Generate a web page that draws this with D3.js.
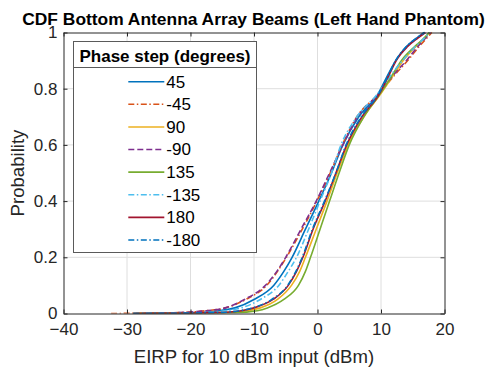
<!DOCTYPE html>
<html>
<head>
<meta charset="utf-8">
<script src="https://cdn.jsdelivr.net/npm/d3@7"></script>
<style>
  html, body { margin: 0; padding: 0; background: #fff; }
  svg { display: block; }
  text { font-family: "Liberation Sans", Arial, Helvetica, sans-serif; }
</style>
</head>
<body>
<svg id="chart" width="486" height="367"></svg>
<script>
// ---- data ----
const chartTitle = "CDF Bottom Antenna Array Beams (Left Hand Phantom)";
const xLabel = "EIRP for 10 dBm input (dBm)";
const yLabel = "Probability";
const legendTitle = "Phase step (degrees)";
const xTicks = [-40, -30, -20, -10, 0, 10, 20];
const yTicks = [0, 0.2, 0.4, 0.6, 0.8, 1];
const yTickLabels = ["0", "0.2", "0.4", "0.6", "0.8", "1"];
const seriesNames = ["45", "-45", "90", "-90", "135", "-135", "180", "-180"];
// probability levels at which EIRP values were read
const probLevels = [0, 0.003, 0.01, 0.02, 0.05, 0.1, 0.15, 0.2, 0.3, 0.4, 0.5, 0.6, 0.7, 0.78, 0.85, 0.9, 0.95, 0.98, 1];
const eirp45   = [-29, -19, -15.5, -13, -10, -6.9, -5.3, -4.0, -1.9, 0.2, 2.2, 4.0, 6.5, 9.5, 11.1, 12.3, 14.0, 15.6, 16.8];
const eirpM45  = [-32.5, -22, -17.5, -14.5, -11.3, -8.0, -6.3, -4.9, -2.4, -0.1, 2.0, 3.9, 6.2, 9.6, 12.2, 14.2, 16.0, 17.2, 18.0];
const eirp90   = [-29, -15, -11, -9, -6.3, -4.1, -2.8, -1.9, -0.2, 1.5, 3.1, 4.8, 7.3, 9.9, 12.0, 13.5, 15.5, 16.8, 17.6];
const eirpM90  = [-29, -22, -17.5, -14.5, -11.5, -8.2, -6.4, -5.0, -2.6, -0.2, 1.9, 4.0, 6.3, 9.6, 12.0, 14.0, 15.8, 17.0, 17.8];
const eirp135  = [-29, -13, -9.5, -7.9, -5.3, -3.0, -1.9, -1.1, 0.4, 1.9, 3.4, 5.0, 7.3, 9.8, 11.8, 13.2, 15.3, 16.8, 17.6];
const eirpM135 = [-29, -18, -14.5, -12, -9, -6.1, -4.6, -3.3, -1.4, 0.4, 2.2, 3.7, 6.2, 9.4, 11.6, 13.4, 15.4, 16.8, 17.6];
const eirp180  = [-29, -16, -12, -10, -7, -4.6, -3.3, -2.3, -0.7, 1.2, 2.9, 4.6, 7.0, 9.7, 11.3, 12.4, 14.2, 15.8, 17.0];
const eirpM180 = [-29, -16, -12.2, -10.2, -7.2, -4.7, -3.4, -2.4, -0.8, 1.1, 2.9, 4.5, 6.9, 9.6, 11.2, 12.3, 14.0, 15.6, 16.9];
const seriesValues = [eirp45, eirpM45, eirp90, eirpM90, eirp135, eirpM135, eirp180, eirpM180];

// ---- styles ----
const colors = ["#0072BD", "#D95319", "#EDB120", "#7E2F8E", "#77AC30", "#4DBEEE", "#A2142F", "#0072BD"];
const dashDot = "6,2.5,1.5,2.5";
const dashes = ["none", dashDot, "none", "6,3", "none", dashDot, "none", dashDot];

const W = 486, H = 367;
const m = { left: 63.5, top: 32.5, right: 486 - 444.5, bottom: 367 - 313.5 };
const iw = W - m.left - m.right, ih = H - m.top - m.bottom;
const axisColor = "#262626";

const svg = d3.select("#chart");
const g = svg.append("g").attr("transform", `translate(${m.left},${m.top})`);

const x = d3.scaleLinear().domain([-40, 20]).range([0, iw]);
const y = d3.scaleLinear().domain([0, 1]).range([ih, 0]);

// grid
g.append("g").selectAll("line").data(xTicks.slice(1, -1)).join("line")
  .attr("x1", d => x(d)).attr("x2", d => x(d)).attr("y1", 0).attr("y2", ih)
  .attr("stroke", "#dedede").attr("stroke-width", 1);
g.append("g").selectAll("line").data(yTicks.slice(1, -1)).join("line")
  .attr("y1", d => y(d)).attr("y2", d => y(d)).attr("x1", 0).attr("x2", iw)
  .attr("stroke", "#dedede").attr("stroke-width", 1);

// curves
const defs = svg.append("defs");
defs.append("clipPath").attr("id", "clip").append("rect")
  .attr("x", 0).attr("y", -2).attr("width", iw).attr("height", ih + 2);

const line = d3.line()
  .x(d => x(d[0])).y(d => y(d[1]))
  .curve(d3.curveMonotoneX);

const curves = g.append("g").attr("clip-path", "url(#clip)");
seriesValues.forEach((vals, i) => {
  const pts = vals.map((v, k) => [v, probLevels[k]]);
  curves.append("path").datum(pts)
    .attr("d", line)
    .attr("fill", "none")
    .attr("stroke", colors[i])
    .attr("stroke-width", 1.6)
    .attr("stroke-dasharray", dashes[i]);
});

// axes (box with inward ticks on all sides)
const tickLen = 4;
const fontTick = 17;
const xAxisB = d3.axisBottom(x).tickValues(xTicks).tickSizeInner(-tickLen).tickSizeOuter(0).tickPadding(9);
const xAxisT = d3.axisTop(x).tickValues(xTicks).tickSizeInner(-tickLen).tickSizeOuter(0).tickFormat("");
const yAxisL = d3.axisLeft(y).tickValues(yTicks).tickSizeInner(-tickLen).tickSizeOuter(0).tickPadding(6)
  .tickFormat((d, i) => yTickLabels[i]);
const yAxisR = d3.axisRight(y).tickValues(yTicks).tickSizeInner(-tickLen).tickSizeOuter(0).tickFormat("");

function styleAxis(sel) {
  sel.select(".domain").attr("stroke", axisColor).attr("stroke-width", 1);
  sel.selectAll(".tick line").attr("stroke", axisColor).attr("stroke-width", 1);
  sel.selectAll(".tick text").attr("fill", axisColor)
    .style("font-size", fontTick + "px")
    .style("font-family", '"Liberation Sans", Arial, sans-serif');
}
g.append("g").attr("transform", `translate(0,${ih})`).call(xAxisB).call(styleAxis);
g.append("g").call(xAxisT).call(styleAxis);
g.append("g").call(yAxisL).call(styleAxis);
g.append("g").attr("transform", `translate(${iw},0)`).call(yAxisR).call(styleAxis);

// labels
svg.append("text").attr("x", 254).attr("y", 362.5).attr("text-anchor", "middle")
  .attr("fill", axisColor).style("font-size", "18.6px").text(xLabel);
svg.append("text").attr("transform", `translate(24,${m.top + y(0.5)}) rotate(-90)`)
  .attr("text-anchor", "middle").attr("fill", axisColor).style("font-size", "18.6px").text(yLabel);
svg.append("text").attr("x", 253.5).attr("y", 25).attr("text-anchor", "middle")
  .attr("fill", "#000").style("font-size", "17.4px").style("font-weight", "bold").text(chartTitle);

// legend
const lg = svg.append("g");
const lx0 = 73.5, lx1 = 256.5, ly0 = 41.5, ly1 = 252.5, lsep = 67.5;
lg.append("rect").attr("x", lx0).attr("y", ly0).attr("width", lx1 - lx0).attr("height", ly1 - ly0)
  .attr("fill", "#fff").attr("stroke", "#5a5a5a").attr("stroke-width", 1);
lg.append("line").attr("x1", lx0).attr("x2", lx1).attr("y1", lsep).attr("y2", lsep)
  .attr("stroke", "#5a5a5a").attr("stroke-width", 1);
lg.append("text").attr("x", (lx0 + lx1) / 2).attr("y", 61.5).attr("text-anchor", "middle")
  .attr("fill", "#000").style("font-size", "17px").style("font-weight", "bold").text(legendTitle);
const rowY = d3.scaleLinear().domain([0, seriesNames.length - 1]).range([81.7, 240]);
seriesNames.forEach((name, i) => {
  const yy = rowY(i);
  lg.append("line").attr("x1", 128.3).attr("x2", 164.3).attr("y1", yy).attr("y2", yy)
    .attr("stroke", colors[i]).attr("stroke-width", 1.6).attr("stroke-dasharray", dashes[i]);
  lg.append("text").attr("x", 166.3).attr("y", yy).attr("dy", "0.35em")
    .attr("fill", "#000").style("font-size", "17px").text(name);
});
</script>
</body>
</html>
